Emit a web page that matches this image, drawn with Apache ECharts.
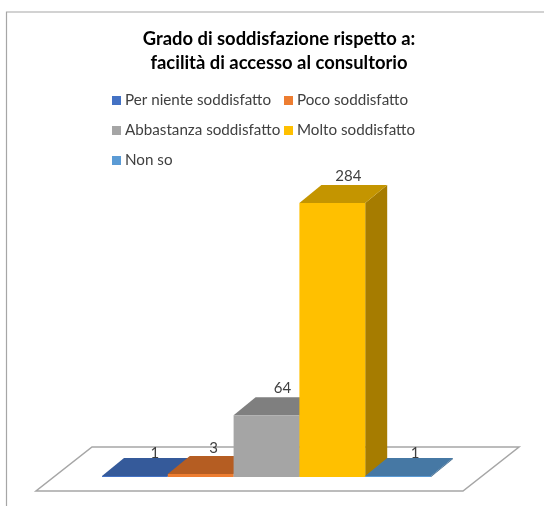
<!DOCTYPE html>
<html><head><meta charset="utf-8">
<style>html,body{margin:0;padding:0;background:#fff}#c{width:544px;height:506px}</style>
<script src="https://cdn.jsdelivr.net/npm/echarts@6/dist/echarts.min.js"></script>
</head><body><div id="c"></div>
<script>
const titleText = "Grado di soddisfazione rispetto a:\nfacilità di accesso al consultorio";
const categories = ["Per niente soddisfatto","Poco soddisfatto","Abbastanza soddisfatto","Molto soddisfatto","Non so"];
const values = [1,3,64,284,1];
const frontColors = ["#4472C4","#ED7D31","#A5A5A5","#FFC000","#5B9BD5"];
const topColors = ["#355A9A","#B55D22","#7F7F7F","#C49500","#4678A4"];
const sideColors = ["#2A4A80","#9A4E1C","#6E6E6E","#A67C00","#3A6488"];
const labelShiftX = [20,13,16,16,17];
const labelShiftY = [-23,-26,-27,-27,-23];
const depthX = 22, depthY = -18;
const font = "Lato, Carlito, sans-serif";

function barItem(i){
  return function(params, api){
    const idx = api.value(0);
    const top = api.coord([idx, api.value(1)]);
    const base = api.coord([idx, 0]);
    const w = api.size([1,0])[0];
    const l = top[0]-w/2, r = top[0]+w/2, t = top[1], b = base[1];
    const poly = (pts, fill) => ({type:'polygon', shape:{points:pts}, style:{fill:fill, stroke:null}});
    return {type:'group', children:[
      poly([[r,t],[r+depthX,t+depthY],[r+depthX,b+depthY],[r,b]], sideColors[i]),
      poly([[l,t],[l+depthX,t+depthY],[r+depthX,t+depthY],[r,t]], topColors[i]),
      {type:'rect', shape:{x:l,y:t,width:r-l,height:b-t}, style:{fill:frontColors[i]}},
      {type:'text', z2:50, style:{x:top[0]+labelShiftX[i], y:t+labelShiftY[i], text:String(api.value(1)),
        fill:'#404040', font:'15px '+font, align:'center', verticalAlign:'middle'}}
    ]};
  };
}

const barSeries = categories.map((name,i)=>({
  type:'custom', name:name, silent:true, clip:false, z:3+i,
  itemStyle:{color:frontColors[i]},
  encode:{x:0,y:1},
  data:[[i,values[i]]],
  renderItem:barItem(i)
}));

const floorSeries = {
  type:'custom', silent:true, clip:false, z:1, encode:{x:0,y:1},
  data:[[0,0]],
  renderItem:function(params, api){
    const g = params.coordSys;
    const bottom = g.y+g.height;
    const pts = [[g.x-66,bottom+14],[g.x+g.width+32,bottom+14],[g.x+g.width+88,bottom-30],[g.x-10,bottom-30]];
    return {type:'polygon', shape:{points:pts}, style:{fill:'#fff', stroke:'#A6A6A6', lineWidth:1.5}};
  }
};

const chart = echarts.init(document.getElementById('c'), null, {renderer:'canvas'});
const legendBase = {orient:'vertical', icon:'rect', itemWidth:9, itemHeight:9, itemGap:15, top:93,
  textStyle:{fontFamily:font, fontSize:15.2, color:'#404040', padding:[0,0,0,-1]}, selectedMode:false, padding:0};
chart.setOption({
  animation:false,
  backgroundColor:'#fff',
  title:{text:titleText, left:274, top:22, textAlign:'center',
    textStyle:{fontFamily:font, fontSize:18.4, fontWeight:'bold', color:'#000', lineHeight:24}},
  legend:[
    Object.assign({},legendBase,{left:112, data:[categories[0],categories[2],categories[4]]}),
    Object.assign({},legendBase,{left:284, data:[categories[1],categories[3]]})
  ],
  grid:{left:102, width:329, top:187.5, height:289.5},
  xAxis:{type:'category', data:categories, show:false},
  yAxis:{type:'value', min:0, max:300, show:false},
  graphic:[{type:'polyline', shape:{points:[[544,12],[6.5,12],[6.5,506]]}, style:{fill:null, stroke:'#A6A6A6', lineWidth:1.2}, silent:true}],
  series:[floorSeries].concat(barSeries)
});
</script></body></html>
